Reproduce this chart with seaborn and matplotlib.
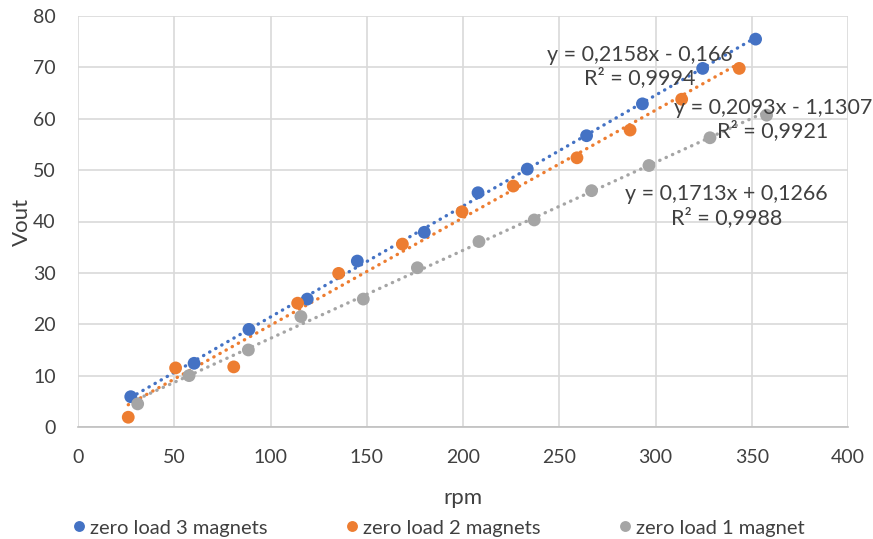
import numpy as np
import pandas as pd
import matplotlib
matplotlib.use('Agg')
import matplotlib.pyplot as plt
import seaborn as sns

# data
rpm_3 = [27.4, 60.3, 88.8, 119.1, 145.1, 179.9, 207.8, 233.4, 264.2, 293.2, 324.5, 352.0]
vout_3 = [5.9, 12.4, 19.0, 24.9, 32.3, 37.9, 45.6, 50.2, 56.7, 62.9, 69.8, 75.5]
rpm_2 = [26.1, 50.7, 80.9, 114.1, 135.4, 168.5, 199.5, 226.1, 259.2, 286.8, 313.6, 343.5]
vout_2 = [1.9, 11.5, 11.7, 24.1, 29.9, 35.6, 41.9, 46.9, 52.4, 57.8, 63.8, 69.8]
rpm_1 = [31.0, 57.7, 88.5, 115.8, 148.2, 176.3, 208.3, 237.0, 266.8, 296.6, 328.3, 357.7]
vout_1 = [4.5, 10.0, 15.0, 21.5, 24.9, 31.0, 36.1, 40.3, 46.0, 50.9, 56.3, 60.7]

series = ['zero load 3 magnets', 'zero load 2 magnets', 'zero load 1 magnet']
colors = ['#4472C4', '#ED7D31', '#A5A5A5']
slopes = [0.2158, 0.2093, 0.1713]
intercepts = [-0.166, -1.1307, 0.1266]
eq_texts = ['y = 0,2158x - 0,166\nR² = 0,9994',
            'y = 0,2093x - 1,1307\nR² = 0,9921',
            'y = 0,1713x + 0,1266\nR² = 0,9988']
eq_pos = [(292, 70.1), (361, 59.8), (337, 43.0)]

df = pd.concat([
    pd.DataFrame({'rpm': rpm_3, 'Vout': vout_3, 'series': series[0]}),
    pd.DataFrame({'rpm': rpm_2, 'Vout': vout_2, 'series': series[1]}),
    pd.DataFrame({'rpm': rpm_1, 'Vout': vout_1, 'series': series[2]}),
])

sns.set_style('white')
plt.rcParams['font.family'] = ['Lato', 'DejaVu Sans']
txt_col = '#404040'

fig = plt.figure(figsize=(8.73, 5.39), dpi=100)
ax = fig.add_axes([78/873, 112/539, 770/873, 411/539])

sns.scatterplot(data=df, x='rpm', y='Vout', hue='series', palette=colors,
                s=85, edgecolor='none', ax=ax, zorder=3)

# dotted linear trendlines
for name, c, m, b in zip(series, colors, slopes, intercepts):
    xs = df.loc[df['series'] == name, 'rpm']
    xx = np.array([xs.min(), xs.max()])
    ax.plot(xx, m * xx + b, color=c, lw=2.4, linestyle=(0, (0.1, 2.0)),
            dash_capstyle='round', zorder=2)

for txt, (tx, ty) in zip(eq_texts, eq_pos):
    ax.text(tx, ty, txt, ha='center', va='center', fontsize=15.5,
            color=txt_col, clip_on=False, zorder=4, linespacing=1.15)

ax.set_xlim(0, 400)
ax.set_ylim(0, 80)
ax.set_xticks(range(0, 401, 50))
ax.set_yticks(range(0, 81, 10))
ax.grid(True, color='#d9d9d9', lw=1.2)
ax.set_axisbelow(True)
for s in ['top', 'right', 'left']:
    ax.spines[s].set_visible(False)
ax.spines['bottom'].set_color('#bfbfbf')
ax.spines['bottom'].set_linewidth(1.2)
ax.tick_params(axis='x', length=5, width=1.2, color='#d0d0d0', labelsize=14,
               labelcolor=txt_col, pad=11)
ax.tick_params(axis='y', length=5, width=1.2, color='#d9d9d9', labelsize=14,
               labelcolor=txt_col, pad=11)
ax.set_xlabel('rpm', fontsize=16, color=txt_col)
ax.set_ylabel('Vout', fontsize=16, color=txt_col)
ax.xaxis.set_label_coords(0.5, -0.148)
ax.yaxis.set_label_coords(-0.06, 0.5)

sns.move_legend(ax, 'center', bbox_to_anchor=(0.4675, -0.2457), ncol=3,
                title=None, frameon=False, fontsize=14.5, markerscale=0.85,
                handlelength=0.8, handletextpad=0.15, columnspacing=3.8,
                labelcolor=txt_col, borderaxespad=0, borderpad=0)

fig.savefig('out.png', dpi=100)
